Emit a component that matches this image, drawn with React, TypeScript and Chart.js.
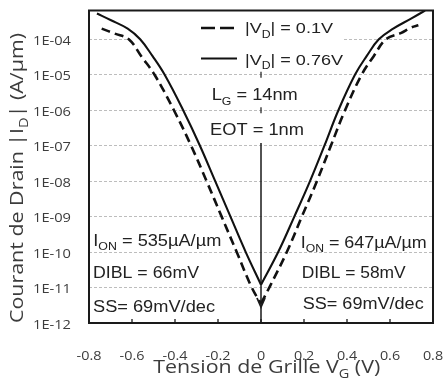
import React, { useEffect, useRef } from "react";
import { Chart, registerables } from "chart.js";

Chart.register(...registerables);

// |VD| = 0.76 V (solid) — left (p-type) and right (n-type) branches
const vgSolidLeft = [-0.763, -0.7, -0.62, -0.562, -0.505, -0.448, -0.362, -0.284, -0.213, -0.142, -0.071, 0];
const idSolidLeft = [5.35e-4, 3.5e-4, 2.0e-4, 1.0e-4, 3.4e-5, 1.0e-5, 1.0e-6, 1.0e-7, 1.0e-8, 1.0e-9, 1.0e-10, 1.2e-11];
const vgSolidRight = [0, 0.08, 0.155, 0.228, 0.295, 0.36, 0.437, 0.492, 0.548, 0.615, 0.7, 0.763];
const idSolidRight = [1.2e-11, 1.0e-10, 1.0e-9, 1.0e-8, 1.0e-7, 1.0e-6, 1.0e-5, 3.4e-5, 1.0e-4, 2.0e-4, 3.9e-4, 6.47e-4];

// |VD| = 0.1 V (dashed)
const vgDashLeft = [-0.741, -0.68, -0.615, -0.555, -0.495, -0.405, -0.325, -0.253, -0.183, -0.113, -0.043, 0];
const idDashLeft = [2.0e-4, 1.45e-4, 1.0e-4, 3.2e-5, 1.0e-5, 1.0e-6, 1.0e-7, 1.0e-8, 1.0e-9, 1.0e-10, 1.0e-11, 3.5e-12];
const vgDashRight = [0, 0.042, 0.12, 0.19, 0.26, 0.325, 0.391, 0.468, 0.525, 0.581, 0.65, 0.7, 0.732];
const idDashRight = [3.5e-12, 1.1e-11, 1.0e-10, 1.0e-9, 1.0e-8, 1.0e-7, 1.0e-6, 1.0e-5, 3.4e-5, 1.0e-4, 1.5e-4, 2.18e-4, 2.5e-4];

const xTickValues = [-0.8, -0.6, -0.4, -0.2, 0, 0.2, 0.4, 0.6, 0.8];
const xTickLabels = ["-0.8", "-0.6", "-0.4", "-0.2", "0", "0.2", "0.4", "0.6", "0.8"];
const yTickValues = [1e-12, 1e-11, 1e-10, 1e-9, 1e-8, 1e-7, 1e-6, 1e-5, 1e-4];
const yTickLabels = ["1E-12", "1E-11", "1E-10", "1E-09", "1E-08", "1E-07", "1E-06", "1E-05", "1E-04"];

const legendLabels = ["0.1V", "0.76V"];
const leftNotes = { ion: "535µA/µm", dibl: "DIBL = 66mV", ss: "SS= 69mV/dec" };
const rightNotes = { ion: "647µA/µm", dibl: "DIBL = 58mV", ss: "SS= 69mV/dec" };

type Part = { t: string; sub?: boolean };

const SANS = '"Liberation Sans", Arial, sans-serif';
const OPEN = '"Open Sans", "Liberation Sans", sans-serif';

function drawRich(
  ctx: CanvasRenderingContext2D,
  parts: Part[],
  x: number,
  baseY: number,
  size: number,
  family: string,
  color: string,
  align: "left" | "center" | "right",
  opts: { width?: number; sx?: number; rotate?: boolean } = {}
) {
  const subSize = size * 0.68;
  const widths = parts.map((p) => {
    ctx.font = `${p.sub ? subSize : size}px ${family}`;
    return ctx.measureText(p.t).width;
  });
  const W = widths.reduce((a, b) => a + b, 0);
  const s = opts.width ? opts.width / W : opts.sx ?? 1;
  ctx.save();
  ctx.translate(x, baseY);
  if (opts.rotate) ctx.rotate(-Math.PI / 2);
  ctx.scale(s, 1);
  ctx.fillStyle = color;
  ctx.textBaseline = "alphabetic";
  ctx.textAlign = "left";
  let cx = align === "left" ? 0 : align === "center" ? -W / 2 : -W;
  parts.forEach((p, i) => {
    ctx.font = `${p.sub ? subSize : size}px ${family}`;
    ctx.fillText(p.t, cx, p.sub ? size * 0.28 : 0);
    cx += widths[i];
  });
  ctx.restore();
}

const annotPlugin = {
  id: "annot",
  beforeDraw(chart: any) {
    const { ctx, width, height } = chart;
    ctx.save();
    ctx.fillStyle = "#ffffff";
    ctx.fillRect(0, 0, width, height);
    ctx.restore();
  },
  beforeDatasetsDraw(chart: any) {
    const { ctx, chartArea: a } = chart;
    ctx.save();
    ctx.fillStyle = "#ffffff";
    ctx.fillRect(127, a.top + 1, 216, 60);
    ctx.restore();
  },
  afterDatasetsDraw(chart: any) {
    const { ctx, chartArea: a, scales } = chart;
    const xs = scales.x;
    const ys = scales.y;
    const ink = "#222222";
    const axisInk = "#3c3c3c";
    ctx.save();

    ctx.strokeStyle = "#1a1a1a";
    ctx.lineWidth = 2;
    ctx.strokeRect(a.left, a.top, a.right - a.left, a.bottom - a.top);

    ctx.lineWidth = 1.3;
    xTickValues.forEach((v) => {
      const px = xs.getPixelForValue(v);
      if (px <= a.left + 2 || px >= a.right - 2) return;
      ctx.beginPath();
      ctx.moveTo(px, a.bottom);
      ctx.lineTo(px, a.bottom - 4);
      ctx.stroke();
    });

    const x0 = xs.getPixelForValue(0);
    ctx.lineWidth = 1.5;
    ctx.beginPath();
    ctx.moveTo(x0, 143);
    ctx.lineTo(x0, a.bottom);
    ctx.stroke();
    ctx.lineWidth = 1.8;
    ctx.beginPath();
    ctx.moveTo(x0 - 4, 298);
    ctx.lineTo(x0, 307);
    ctx.lineTo(x0 + 4, 298);
    ctx.stroke();
    ctx.lineWidth = 1.2;
    [1e-5, 1e-6].forEach((v) => {
      const py = ys.getPixelForValue(v);
      ctx.beginPath();
      ctx.moveTo(x0, py - 3);
      ctx.lineTo(x0, py + 3);
      ctx.stroke();
    });

    ctx.strokeStyle = "#111";
    ctx.lineWidth = 2.6;
    ctx.setLineDash([14, 5]);
    ctx.beginPath();
    ctx.moveTo(201, 28);
    ctx.lineTo(236, 28);
    ctx.stroke();
    ctx.setLineDash([]);
    ctx.lineWidth = 2.2;
    ctx.beginPath();
    ctx.moveTo(201, 58.5);
    ctx.lineTo(237, 58.5);
    ctx.stroke();

    drawRich(ctx, [{ t: "|V" }, { t: "D", sub: true }, { t: "| = " + legendLabels[0] }], 245, 33.4, 15, SANS, ink, "left", { width: 88 });
    drawRich(ctx, [{ t: "|V" }, { t: "D", sub: true }, { t: "| = " + legendLabels[1] }], 245, 65, 15, SANS, ink, "left", { width: 98 });

    drawRich(ctx, [{ t: "L" }, { t: "G", sub: true }, { t: " = 14nm" }], 211.7, 100.4, 16, SANS, ink, "left", { width: 86 });
    drawRich(ctx, [{ t: "EOT = 1nm" }], 210, 135.2, 16, SANS, ink, "left", { width: 94 });

    drawRich(ctx, [{ t: "I" }, { t: "ON", sub: true }, { t: " = " + leftNotes.ion }], 93.3, 246, 16, SANS, ink, "left", { width: 128 });
    drawRich(ctx, [{ t: leftNotes.dibl }], 93, 278.3, 16, SANS, ink, "left", { width: 106 });
    drawRich(ctx, [{ t: leftNotes.ss }], 93, 312.3, 16, SANS, ink, "left", { width: 122 });

    drawRich(ctx, [{ t: "I" }, { t: "ON", sub: true }, { t: " = " + rightNotes.ion }], 300.7, 248, 16, SANS, ink, "left", { width: 126 });
    drawRich(ctx, [{ t: rightNotes.dibl }], 301.7, 278.3, 16, SANS, ink, "left", { width: 104 });
    drawRich(ctx, [{ t: rightNotes.ss }], 302.7, 309.3, 16, SANS, ink, "left", { width: 121 });

    xTickValues.forEach((v, i) => {
      drawRich(ctx, [{ t: xTickLabels[i] }], xs.getPixelForValue(v), 360, 12.5, OPEN, axisInk, "center", { sx: 1.15 });
    });
    yTickValues.forEach((v, i) => {
      drawRich(ctx, [{ t: yTickLabels[i] }], 71, ys.getPixelForValue(v) + 5.6, 12.5, OPEN, axisInk, "right", { width: 38 });
    });

    drawRich(ctx, [{ t: "Tension de Grille V" }, { t: "G", sub: true }, { t: " (V)" }], 266.7, 373.3, 17.5, OPEN, axisInk, "center", { width: 227 });
    drawRich(ctx, [{ t: "Courant de Drain |I" }, { t: "D", sub: true }, { t: "| (A/µm)" }], 23.3, 178, 17.5, OPEN, axisInk, "center", { width: 290, rotate: true });

    ctx.restore();
  },
};

function toPoints(xs: number[], ys: number[]) {
  return xs.map((x, i) => ({ x, y: ys[i] }));
}

export default function App() {
  const canvasRef = useRef<HTMLCanvasElement | null>(null);

  useEffect(() => {
    const canvas = canvasRef.current;
    if (!canvas) return;
    const solid = { borderColor: "#111", borderWidth: 2.1, pointRadius: 0, tension: 0.4, fill: false };
    const dashed = { borderColor: "#111", borderWidth: 2.6, borderDash: [9, 5], pointRadius: 0, tension: 0.4, fill: false };
    const chart = new Chart(canvas, {
      type: "line",
      data: {
        datasets: [
          { label: "|VD| = 0.1V", data: toPoints(vgDashLeft, idDashLeft), ...dashed },
          { label: "|VD| = 0.1V ", data: toPoints(vgDashRight, idDashRight), ...dashed },
          { label: "|VD| = 0.76V", data: toPoints(vgSolidLeft, idSolidLeft), ...solid },
          { label: "|VD| = 0.76V ", data: toPoints(vgSolidRight, idSolidRight), ...solid },
        ],
      },
      options: {
        animation: false,
        responsive: true,
        maintainAspectRatio: false,
        devicePixelRatio: 1,
        layout: { padding: { left: 89, right: 12, top: 10.5, bottom: 62 } },
        plugins: { legend: { display: false }, tooltip: { enabled: false } },
        scales: {
          x: {
            type: "linear",
            min: -0.8,
            max: 0.8,
            grid: { display: false, drawTicks: false },
            border: { display: false },
            ticks: { display: false },
            afterFit: (s: any) => {
              s.height = 0;
            },
          },
          y: {
            type: "logarithmic",
            min: 1e-12,
            max: 6.5e-4,
            grid: { color: "#bdbdbd", lineWidth: 1, drawTicks: false },
            border: { display: false, dash: [3, 2] },
            ticks: { display: false },
            afterBuildTicks: (s: any) => {
              s.ticks = yTickValues.map((v) => ({ value: v }));
            },
            afterFit: (s: any) => {
              s.width = 0;
            },
          },
        },
      },
      plugins: [annotPlugin],
    } as any);
    return () => chart.destroy();
  }, []);

  return (
    <div style={{ position: "absolute", left: 0, top: 0, width: 445, height: 385, background: "#fff" }}>
      <canvas ref={canvasRef} />
    </div>
  );
}
